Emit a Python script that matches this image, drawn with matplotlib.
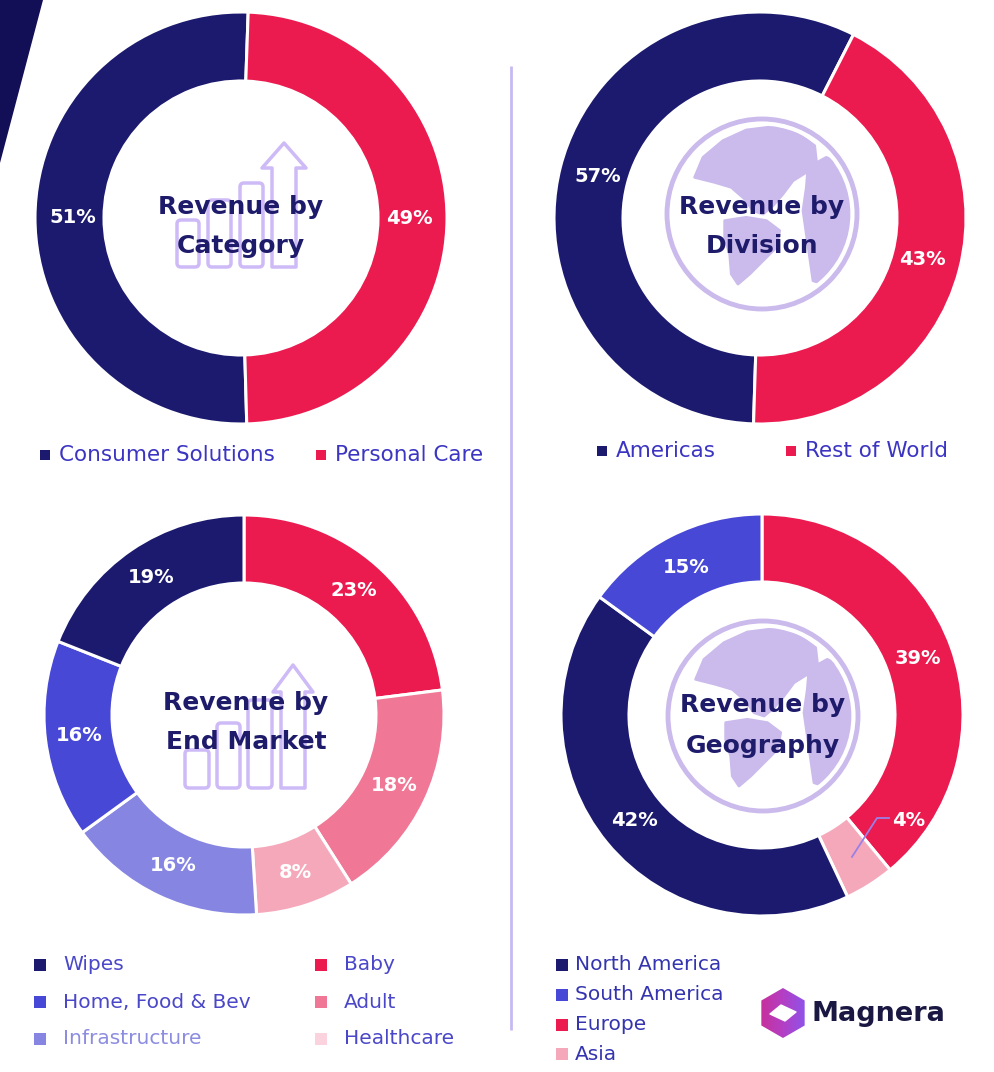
import numpy as np
import matplotlib
matplotlib.use("Agg")
import matplotlib.pyplot as plt
from matplotlib.patches import Polygon, Circle, FancyBboxPatch, Rectangle
from matplotlib.colors import LinearSegmentedColormap

# ---------------- data ----------------
cat_labels = ["Consumer Solutions", "Personal Care"]
cat_values = [51, 49]

div_labels = ["Americas", "Rest of World"]
div_values = [57, 43]

end_labels = ["Baby", "Adult", "Healthcare", "Infrastructure", "Home, Food & Bev", "Wipes"]
end_values = [23, 18, 8, 16, 16, 19]

geo_labels = ["Europe", "Asia", "North America", "South America"]
geo_values = [39, 4, 42, 15]

titles = [("Revenue by", "Category"), ("Revenue by", "Division"),
          ("Revenue by", "End Market"), ("Revenue by", "Geography")]

# ---------------- colours ----------------
NAVY = "#1b1a6e"
RED = "#eb1a4f"
BLUE = "#4848d6"
LAV = "#8686e2"
PINK = "#f07896"
LPINK = "#f6a8bb"
ICON = "#cdbaf6"
GLOBE = "#cbbaec"
TXT = "#3b35c2"
TITLE = "#1e1b6b"

cat_colors = [NAVY, RED]
div_colors = [NAVY, RED]
end_colors = {"Baby": RED, "Adult": PINK, "Healthcare": LPINK,
              "Infrastructure": LAV, "Home, Food & Bev": BLUE, "Wipes": NAVY}
geo_colors = {"Europe": RED, "Asia": LPINK, "North America": NAVY, "South America": BLUE}

W, H = 994, 1072
fig = plt.figure(figsize=(W / 100, H / 100), dpi=100)
ax = fig.add_axes([0, 0, 1, 1])


def Y(y):
    return H - y


def donut(values, colors, cx, cy, r_out, r_in, start, ccw):
    wedges, _ = ax.pie(values, colors=colors, center=(cx, Y(cy)), radius=r_out,
                       startangle=start, counterclock=ccw,
                       wedgeprops=dict(width=r_out - r_in, edgecolor="white", linewidth=2.2))
    return wedges


def pct_labels(wedges, values, cx, cy, rm, skip=()):
    for i, (w, v) in enumerate(zip(wedges, values)):
        if i in skip:
            continue
        t = np.deg2rad((w.theta1 + w.theta2) / 2)
        ax.text(cx + rm * np.cos(t), Y(cy) + rm * np.sin(t), f"{v}%", color="white",
                fontsize=14, fontweight="bold", ha="center", va="center", zorder=5)


def title(lines, cx, y1, y2):
    ax.text(cx, Y(y1), lines[0], color=TITLE, fontsize=18, fontweight="bold",
            ha="center", va="center", zorder=6)
    ax.text(cx, Y(y2), lines[1], color=TITLE, fontsize=18, fontweight="bold",
            ha="center", va="center", zorder=6)


def bar_icon(bars, shaft, head_y, head_x0, head_x1, apex_y, bottom):
    for (x0, x1, top) in bars:
        ax.add_patch(FancyBboxPatch((x0, Y(bottom)), x1 - x0, bottom - top,
                                    boxstyle="round,pad=0,rounding_size=4",
                                    fill=False, ec=ICON, lw=2.5, zorder=3))
    sx0, sx1 = shaft
    pts = [(sx0, bottom), (sx0, head_y), (head_x0, head_y), ((head_x0 + head_x1) / 2, apex_y),
           (head_x1, head_y), (sx1, head_y), (sx1, bottom)]
    ax.add_patch(Polygon([(x, Y(y)) for x, y in pts], closed=True, fill=False,
                         ec=ICON, lw=2.5, joinstyle="round", zorder=3))


NA = [(-0.709, 0.386), (-0.621, 0.596), (-0.411, 0.772), (-0.165, 0.884), (0.116, 0.919),
      (0.361, 0.860), (0.554, 0.719), (0.572, 0.561), (0.467, 0.439), (0.326, 0.351),
      (0.221, 0.211), (0.116, 0.088), (0.011, 0.0), (-0.095, 0.035), (-0.182, 0.158),
      (-0.323, 0.281), (-0.498, 0.333)]
SA = [(-0.393, -0.070), (-0.165, -0.035), (0.046, -0.070), (0.186, -0.175), (0.151, -0.351),
      (0.011, -0.491), (-0.130, -0.632), (-0.253, -0.737), (-0.323, -0.632), (-0.340, -0.421),
      (-0.393, -0.246)]
AF = [(0.484, 0.491), (0.677, 0.596), (0.818, 0.526), (0.940, 0.281), (0.975, 0.0),
      (0.923, -0.281), (0.800, -0.526), (0.642, -0.737), (0.537, -0.702), (0.502, -0.456),
      (0.467, -0.211), (0.432, 0.035), (0.467, 0.281)]


def globe(cx, cy, r):
    clip = Circle((cx, Y(cy)), r * 0.93, transform=ax.transData, fill=False, lw=0)
    ax.add_patch(clip)
    for shape in (NA, SA, AF):
        p = Polygon([(cx + u * r, Y(cy) + v * r) for u, v in shape], closed=True,
                    fc=GLOBE, ec=GLOBE, lw=2, joinstyle="round", zorder=3)
        ax.add_patch(p)
        p.set_clip_path(clip)
    ax.add_patch(Circle((cx, Y(cy)), r, fill=False, ec=GLOBE, lw=3.5, zorder=3))


def legend_item(x, y, label, color, tcolor=TXT, size=15.5, sq=10):
    ax.add_patch(Rectangle((x - sq / 2, Y(y) - sq / 2), sq, sq, fc=color, ec="none", zorder=4))
    ax.text(x + 14, Y(y), label, color=tcolor, fontsize=size, ha="left", va="center", zorder=4)


# ---------------- background decorations ----------------
ax.add_patch(Polygon([(0, Y(0)), (43, Y(0)), (0, Y(163))], closed=True, fc="#130f57", ec="none"))
ax.plot([511, 511], [Y(66), Y(1030)], color="#c8b9f2", lw=2, solid_capstyle="butt")

# ---------------- top-left: category ----------------
cx, cy = 241, 218
w = donut(cat_values, cat_colors, cx, cy, 206, 137, 88, True)
pct_labels(w, cat_values, cx, cy, 168)
bar_icon([(177, 199, 220), (208, 231, 200), (240, 263, 183)], (272, 296), 168, 262, 306, 143, 267)
title(titles[0], cx, 207, 246)
legend_item(45, 455, cat_labels[0], cat_colors[0])
legend_item(321, 455, cat_labels[1], cat_colors[1])

# ---------------- top-right: division ----------------
cx, cy = 760, 218
w = donut(div_values, div_colors, cx, cy, 206, 137, 63, True)
pct_labels(w, div_values, cx, cy, 168)
globe(762, 214, 95)
title(titles[1], 762, 207, 246)
legend_item(602, 451, div_labels[0], div_colors[0])
legend_item(791, 451, div_labels[1], div_colors[1])

# ---------------- bottom-left: end market ----------------
cx, cy = 244, 715
w = donut(end_values, [end_colors[k] for k in end_labels], cx, cy, 200, 132, 90, False)
pct_labels(w, end_values, cx, cy, 166)
bar_icon([(185, 209, 750), (217, 240, 723), (248, 272, 700)], (281, 305), 692, 273, 313, 665, 788)
title(titles[2], 246, 703, 742)
end_legend = [("Wipes", 40, 965), ("Home, Food & Bev", 40, 1002), ("Infrastructure", 40, 1039),
              ("Baby", 321, 965), ("Adult", 321, 1002), ("Healthcare", 321, 1039)]
for lab, x, y in end_legend:
    col = end_colors[lab]
    if lab == "Healthcare":
        col = "#fbd3de"
    tc = "#8c8ce0" if lab == "Infrastructure" else "#4a47c8"
    ax.add_patch(Rectangle((x - 6, Y(y) - 6), 12, 12, fc=col, ec="none", zorder=4))
    ax.text(x + 23, Y(y), lab, color=tc, fontsize=14.5, ha="left", va="center", zorder=4)

# ---------------- bottom-right: geography ----------------
cx, cy = 762, 715
w = donut(geo_values, [geo_colors[k] for k in geo_labels], cx, cy, 201, 133, 90, False)
pct_labels(w, geo_values, cx, cy, 166, skip=(1,))
# Asia label outside with leader line
wa = w[1]
t = np.deg2rad((wa.theta1 + wa.theta2) / 2)
x0, y0 = cx + 168 * np.cos(t), Y(cy) + 168 * np.sin(t)
ax.plot([x0, 877, 889], [y0, Y(818), Y(818)], color="#9a80e6", lw=1.3, zorder=5)
ax.text(892, Y(821), f"{geo_values[1]}%", color="white", fontsize=14, fontweight="bold",
        ha="left", va="center", zorder=5)
globe(763, 716, 95)
title(titles[3], 763, 705, 746)
geo_legend = [("North America", 965), ("South America", 995), ("Europe", 1025), ("Asia", 1054)]
for lab, y in geo_legend:
    ax.add_patch(Rectangle((562 - 6, Y(y) - 6), 12, 12, fc=geo_colors[lab], ec="none", zorder=4))
    ax.text(575, Y(y), lab, color="#3434b0", fontsize=14.5, ha="left", va="center", zorder=4)

# ---------------- logo ----------------
lcx, lcy, lr = 783, 1013, 25
hexpts = [(lcx + lr * np.cos(np.deg2rad(a)), Y(lcy) + lr * np.sin(np.deg2rad(a)))
          for a in (90, 150, 210, 270, 330, 30)]
hexp = Polygon(hexpts, closed=True, fc="none", ec="none")
ax.add_patch(hexp)
cmap = LinearSegmentedColormap.from_list("lg", ["#c92f96", "#b43fc4", "#8a55ee"])
grad = np.linspace(0, 1, 64).reshape(1, -1)
im = ax.imshow(grad, cmap=cmap, extent=(lcx - lr, lcx + lr, Y(lcy) - lr, Y(lcy) + lr),
               aspect="auto", zorder=4)
im.set_clip_path(hexp)
inner = [(lcx - 13, Y(lcy) - 1), (lcx - 2, Y(lcy) + 8), (lcx + 13, Y(lcy) + 1), (lcx + 2, Y(lcy) - 8)]
ax.add_patch(Polygon(inner, closed=True, fc="white", ec="white", lw=1, joinstyle="round", zorder=5))
ax.text(812, Y(1014), "Magnera", color="#1a1842", fontsize=19.5, fontweight="bold",
        ha="left", va="center", zorder=5)

ax.set_xlim(0, W)
ax.set_ylim(0, H)
ax.set_aspect("equal")
ax.axis("off")
fig.savefig("out.png", dpi=100, facecolor="white")
